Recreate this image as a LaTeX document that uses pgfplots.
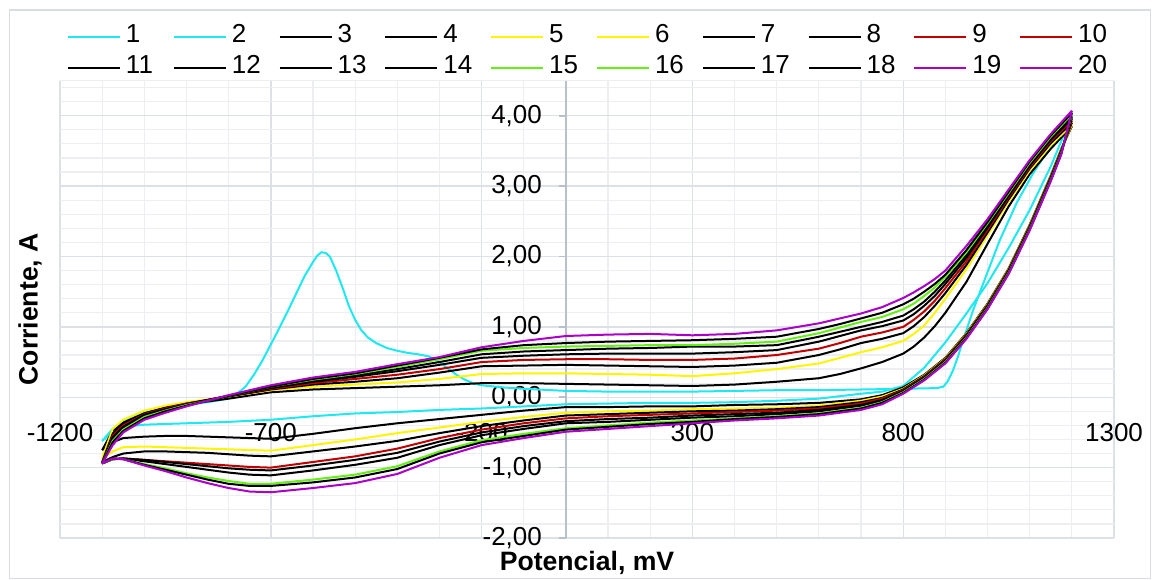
\documentclass[border=0pt]{standalone}
\usepackage{pgfplots}
\usepackage{pgfplotstable}
\pgfplotsset{compat=1.18}
\usepackage{fontspec}
\setmainfont{Liberation Sans}
\definecolor{cyanC}{RGB}{30,232,240}
\definecolor{yellowC}{RGB}{255,245,0}
\definecolor{redC}{RGB}{192,0,0}
\definecolor{greenC}{RGB}{100,240,20}
\definecolor{purpleC}{RGB}{170,0,200}
\definecolor{gridmaj}{RGB}{220,224,231}
\definecolor{gridmin}{RGB}{236,238,242}
\definecolor{axisgray}{RGB}{185,192,205}
\definecolor{framegray}{RGB}{217,220,226}

\pgfplotstableread{
x y
-1100 -0.62
-1075 -0.45
-1050 -0.33
-1000 -0.22
-950 -0.15
-900 -0.11
-850 -0.07
-800 -0.02
-780 0.05
-760 0.15
-740 0.32
-720 0.52
-700 0.75
-680 0.98
-660 1.22
-640 1.47
-620 1.72
-600 1.92
-590 2.01
-580 2.06
-570 2.05
-560 2.00
-545 1.80
-530 1.56
-515 1.30
-500 1.10
-485 0.95
-470 0.85
-450 0.77
-425 0.70
-400 0.66
-375 0.63
-350 0.61
-325 0.58
-300 0.50
-280 0.41
-260 0.32
-240 0.25
-220 0.20
-200 0.17
-150 0.14
-100 0.12
0 0.09
100 0.08
200 0.08
300 0.08
400 0.09
500 0.10
600 0.10
700 0.11
800 0.12
880 0.13
895 0.15
905 0.22
918 0.38
930 0.58
942 0.81
966 1.24
990 1.62
1029 2.23
1069 2.76
1108 3.18
1148 3.55
1175 3.78
1200 3.98
}\upA

\pgfplotstableread{
x y
1200 3.98
1175 3.64
1150 3.28
1100 2.66
1050 2.12
1000 1.62
950 1.19
900 0.78
850 0.42
800 0.16
750 0.08
700 0.05
600 -0.02
500 -0.05
400 -0.07
300 -0.08
200 -0.08
100 -0.09
0 -0.10
-100 -0.13
-200 -0.16
-300 -0.18
-400 -0.21
-500 -0.23
-600 -0.27
-700 -0.32
-800 -0.35
-900 -0.37
-1000 -0.39
-1050 -0.42
-1075 -0.50
-1100 -0.62
}\lowA

\pgfplotstableread{
x c2 c3 c4 c5 c6 c7 c8 c9 c10
-1100 -0.75 -0.87 -0.92 -0.94 -0.94 -0.94 -0.94 -0.94 -0.94
-1075 -0.48 -0.45 -0.52 -0.55 -0.57 -0.60 -0.62 -0.64 -0.68
-1050 -0.36 -0.32 -0.38 -0.40 -0.42 -0.44 -0.46 -0.48 -0.50
-1000 -0.23 -0.19 -0.23 -0.24 -0.25 -0.27 -0.28 -0.30 -0.32
-950 -0.15 -0.12 -0.15 -0.16 -0.17 -0.18 -0.19 -0.20 -0.22
-900 -0.10 -0.07 -0.09 -0.09 -0.10 -0.10 -0.11 -0.12 -0.13
-850 -0.06 -0.03 -0.04 -0.04 -0.04 -0.04 -0.05 -0.05 -0.05
-800 -0.02 0.01 0.01 0.02 0.02 0.02 0.02 0.02 0.03
-700 0.07 0.10 0.11 0.12 0.13 0.14 0.15 0.15 0.17
-600 0.11 0.15 0.18 0.20 0.22 0.24 0.25 0.26 0.28
-500 0.13 0.18 0.22 0.26 0.29 0.31 0.33 0.34 0.36
-400 0.15 0.21 0.27 0.32 0.37 0.40 0.43 0.45 0.47
-300 0.17 0.26 0.35 0.40 0.46 0.50 0.54 0.56 0.57
-200 0.20 0.33 0.44 0.50 0.56 0.61 0.66 0.68 0.71
-100 0.20 0.34 0.45 0.53 0.59 0.65 0.70 0.74 0.80
0 0.19 0.34 0.46 0.54 0.61 0.67 0.72 0.77 0.87
100 0.18 0.33 0.45 0.54 0.62 0.69 0.73 0.79 0.89
200 0.17 0.32 0.44 0.53 0.62 0.70 0.74 0.80 0.90
300 0.16 0.30 0.43 0.53 0.62 0.72 0.74 0.81 0.88
400 0.18 0.34 0.45 0.55 0.64 0.72 0.76 0.83 0.90
500 0.22 0.40 0.49 0.60 0.67 0.74 0.79 0.86 0.95
600 0.27 0.48 0.60 0.69 0.79 0.86 0.91 0.97 1.05
650 0.33 0.56 0.68 0.77 0.87 0.93 0.99 1.04 1.12
700 0.41 0.64 0.77 0.86 0.95 1.00 1.07 1.12 1.19
750 0.50 0.71 0.83 0.92 1.01 1.07 1.14 1.20 1.28
800 0.62 0.80 0.91 1.00 1.09 1.16 1.25 1.32 1.41
825 0.72 0.90 1.01 1.10 1.18 1.25 1.33 1.40 1.49
850 0.85 1.02 1.14 1.22 1.30 1.36 1.44 1.50 1.58
875 1.01 1.20 1.30 1.37 1.44 1.50 1.56 1.61 1.68
900 1.20 1.40 1.48 1.55 1.61 1.66 1.71 1.74 1.80
950 1.64 1.82 1.88 1.93 1.98 2.02 2.06 2.09 2.15
1000 2.18 2.30 2.34 2.38 2.41 2.44 2.47 2.49 2.53
1050 2.71 2.78 2.81 2.84 2.86 2.88 2.90 2.92 2.95
1100 3.17 3.22 3.25 3.27 3.29 3.31 3.33 3.35 3.37
1150 3.53 3.58 3.61 3.64 3.66 3.68 3.70 3.72 3.74
1200 3.85 3.87 3.90 3.93 3.96 3.99 4.02 4.04 4.07
}\up

\pgfplotstableread{
x c2 c3 c4 c5 c6 c7 c8 c9 c10
1200 3.85 3.87 3.90 3.93 3.96 3.99 4.02 4.04 4.07
1175 3.53 3.52 3.51 3.50 3.49 3.48 3.47 3.46 3.45
1150 3.15 3.14 3.13 3.12 3.11 3.10 3.09 3.08 3.07
1100 2.45 2.44 2.43 2.42 2.41 2.40 2.39 2.38 2.37
1050 1.83 1.82 1.81 1.80 1.79 1.78 1.77 1.76 1.75
1000 1.33 1.32 1.31 1.30 1.29 1.28 1.27 1.26 1.25
950 0.91 0.90 0.89 0.88 0.87 0.86 0.85 0.84 0.83
900 0.56 0.55 0.54 0.53 0.52 0.51 0.50 0.49 0.48
850 0.32 0.31 0.30 0.29 0.28 0.27 0.26 0.25 0.24
800 0.14 0.12 0.11 0.10 0.09 0.08 0.07 0.06 0.05
750 0.03 0.01 -0.01 -0.02 -0.04 -0.05 -0.07 -0.08 -0.10
700 -0.03 -0.05 -0.07 -0.09 -0.11 -0.12 -0.15 -0.16 -0.18
600 -0.08 -0.12 -0.14 -0.16 -0.18 -0.20 -0.23 -0.24 -0.26
500 -0.10 -0.15 -0.17 -0.19 -0.22 -0.24 -0.27 -0.28 -0.30
400 -0.11 -0.16 -0.19 -0.21 -0.24 -0.27 -0.30 -0.31 -0.33
300 -0.13 -0.17 -0.20 -0.23 -0.26 -0.29 -0.33 -0.35 -0.37
200 -0.13 -0.19 -0.22 -0.25 -0.29 -0.32 -0.36 -0.38 -0.41
100 -0.14 -0.20 -0.24 -0.27 -0.31 -0.35 -0.40 -0.42 -0.45
0 -0.14 -0.22 -0.26 -0.30 -0.34 -0.37 -0.44 -0.46 -0.49
-100 -0.19 -0.28 -0.33 -0.37 -0.41 -0.45 -0.52 -0.55 -0.58
-200 -0.25 -0.35 -0.41 -0.46 -0.50 -0.54 -0.61 -0.64 -0.68
-300 -0.31 -0.43 -0.51 -0.58 -0.63 -0.68 -0.77 -0.80 -0.86
-400 -0.37 -0.51 -0.62 -0.73 -0.79 -0.86 -0.98 -1.02 -1.09
-500 -0.44 -0.60 -0.70 -0.84 -0.89 -0.96 -1.10 -1.14 -1.22
-600 -0.52 -0.68 -0.77 -0.92 -0.97 -1.04 -1.17 -1.21 -1.29
-700 -0.59 -0.76 -0.84 -1.00 -1.04 -1.11 -1.23 -1.26 -1.35
-750 -0.58 -0.75 -0.83 -0.99 -1.03 -1.10 -1.23 -1.26 -1.34
-800 -0.57 -0.74 -0.81 -0.97 -1.01 -1.07 -1.19 -1.23 -1.29
-850 -0.56 -0.73 -0.79 -0.95 -0.98 -1.03 -1.14 -1.17 -1.22
-900 -0.55 -0.72 -0.78 -0.93 -0.95 -0.99 -1.08 -1.10 -1.14
-950 -0.55 -0.71 -0.77 -0.91 -0.92 -0.95 -1.01 -1.03 -1.05
-1000 -0.56 -0.70 -0.77 -0.89 -0.89 -0.91 -0.95 -0.96 -0.97
-1050 -0.58 -0.71 -0.80 -0.87 -0.87 -0.87 -0.88 -0.88 -0.88
-1075 -0.64 -0.77 -0.85 -0.88 -0.88 -0.88 -0.88 -0.87 -0.87
-1100 -0.75 -0.87 -0.92 -0.94 -0.94 -0.94 -0.94 -0.94 -0.94
}\low

\begin{document}
\begin{tikzpicture}[font=\fontsize{13}{15.6}\selectfont]
\useasboundingbox (0,0) rectangle (580pt,289.5pt);
\draw[framegray, line width=0.7pt] (4.8pt,0.4pt) rectangle (575.2pt,284.5pt);
\begin{axis}[
  at={(30pt,20.5pt)}, anchor=south west,
  scale only axis, width=527pt, height=228.75pt,
  xmin=-1200, xmax=1300, ymin=-2, ymax=4.5,
  axis x line=middle, axis y line=middle,
  x axis line style={draw=none},
  y axis line style={-, color=axisgray, line width=0.8pt},
  hide obscured x ticks=false, hide obscured y ticks=false,
  xtick={-1200,-700,-200,300,800,1300},
  ytick={-2,-1,0,1,2,3,4},
  minor xtick={-1100,-1000,-900,-800,-600,-500,-400,-300,-100,0,100,200,400,500,600,700,900,1000,1100,1200},
  minor ytick={-1.8,-1.6,-1.4,-1.2,-0.8,-0.6,-0.4,-0.2,0.2,0.4,0.6,0.8,1.2,1.4,1.6,1.8,2.2,2.4,2.6,2.8,3.2,3.4,3.6,3.8,4.2,4.4},
  grid=both,
  major grid style={color=gridmaj, line width=0.7pt},
  minor grid style={color=gridmin, line width=0.6pt},
  tick align=outside,
  major tick length=3.5pt, minor tick length=0pt,
  xtick style={draw=none},
  ytick style={color=axisgray, line width=0.8pt},
  tick label style={font=\fontsize{13}{15.6}\selectfont},
  /pgf/number format/assume math mode=true,
  xticklabel style={anchor=center, yshift=-14pt, /pgf/number format/1000 sep={}},
  yticklabel style={anchor=east, xshift=-5pt, /pgf/number format/.cd, fixed, fixed zerofill, precision=2, use comma, assume math mode=true},
  xlabel={Potencial, mV},
  xlabel style={at={(axis description cs:0.5,-0.0546)}, anchor=center, font=\fontsize{13.3}{16}\selectfont\bfseries},
  ylabel={Corriente, A},
  ylabel style={at={(axis description cs:-0.0285,0.5)}, anchor=center, rotate=90, font=\fontsize{13.3}{16}\selectfont\bfseries},
  every axis plot/.append style={line width=1pt, mark=none},
  legend columns=10,
  legend cell align=left,
  legend image code/.code={\draw[#1, line width=1pt] (0pt,0pt) -- (26pt,0pt);},
  legend style={at={(axis description cs:0.00664,0.99672)}, anchor=south west, draw=none, fill=none, inner sep=0pt, outer sep=0pt, row sep=1.5pt, column sep=0pt, font=\fontsize{13}{15.6}\selectfont, nodes={inner xsep=2.5pt, inner ysep=0pt, text width=20.9pt, text height=9.5pt, text depth=4.5pt, align=left}},
]
\draw[gridmin, line width=0.6pt] (rel axis cs:0,1) -- (rel axis cs:1,1);
\addplot[cyanC] table[x=x,y=y]{\upA}; \addlegendentry{1}
\addplot[cyanC] table[x=x,y=y]{\lowA}; \addlegendentry{2}
\addplot[black] table[x=x,y=c2]{\up}; \addlegendentry{3}
\addplot[black] table[x=x,y=c2]{\low}; \addlegendentry{4}
\addplot[yellowC] table[x=x,y=c3]{\up}; \addlegendentry{5}
\addplot[yellowC] table[x=x,y=c3]{\low}; \addlegendentry{6}
\addplot[black] table[x=x,y=c4]{\up}; \addlegendentry{7}
\addplot[black] table[x=x,y=c4]{\low}; \addlegendentry{8}
\addplot[redC] table[x=x,y=c5]{\up}; \addlegendentry{9}
\addplot[redC] table[x=x,y=c5]{\low}; \addlegendentry{10}
\addplot[black] table[x=x,y=c6]{\up}; \addlegendentry{11}
\addplot[black] table[x=x,y=c6]{\low}; \addlegendentry{12}
\addplot[black] table[x=x,y=c7]{\up}; \addlegendentry{13}
\addplot[black] table[x=x,y=c7]{\low}; \addlegendentry{14}
\addplot[greenC] table[x=x,y=c8]{\up}; \addlegendentry{15}
\addplot[greenC] table[x=x,y=c8]{\low}; \addlegendentry{16}
\addplot[black] table[x=x,y=c9]{\up}; \addlegendentry{17}
\addplot[black] table[x=x,y=c9]{\low}; \addlegendentry{18}
\addplot[purpleC] table[x=x,y=c10]{\up}; \addlegendentry{19}
\addplot[purpleC] table[x=x,y=c10]{\low}; \addlegendentry{20}
\end{axis}
\end{tikzpicture}
\end{document}
